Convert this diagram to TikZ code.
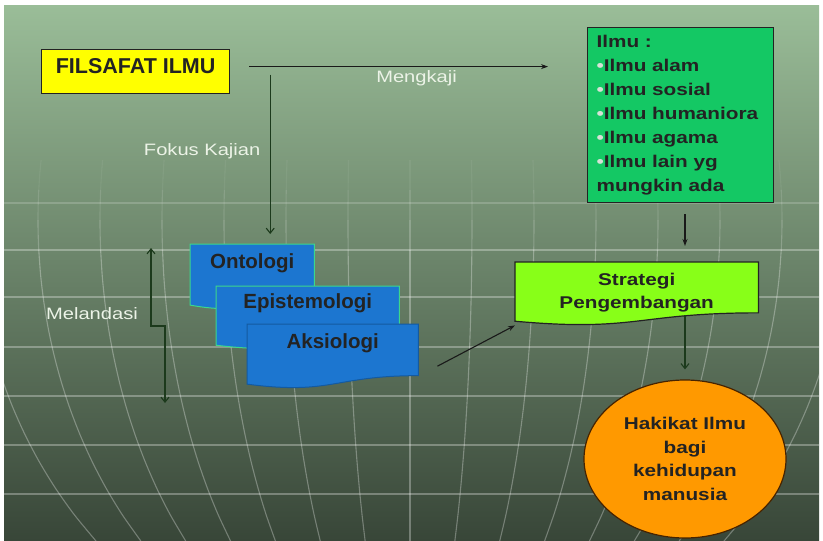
\documentclass[tikz,border=0pt]{standalone}
\usepackage{fontspec}
\setmainfont{Liberation Sans}
\newfontfamily\widefont{Liberation Sans}[FakeStretch=1.22]
\usetikzlibrary{calc,shapes.geometric,arrows.meta}
\pgfdeclarelayer{back}
\pgfdeclarelayer{shapes}
\pgfsetlayers{back,shapes,main}

\definecolor{bgtop}{RGB}{154,189,152}
\definecolor{bgmid}{RGB}{110,140,104}
\definecolor{bgbot}{RGB}{56,70,56}
\definecolor{txt}{RGB}{35,35,35}
\definecolor{lblc}{RGB}{236,243,231}
\definecolor{yellowc}{RGB}{255,255,0}
\definecolor{ilmug}{RGB}{20,200,100}
\definecolor{limec}{RGB}{136,255,24}
\definecolor{tabblue}{RGB}{28,118,208}
\definecolor{tabedge}{RGB}{60,215,140}
\definecolor{aksiedge}{RGB}{20,90,160}
\definecolor{hakorange}{RGB}{255,153,0}
\definecolor{hakline}{RGB}{70,35,0}
\definecolor{linkg}{RGB}{28,58,28}
\definecolor{bullc}{RGB}{215,225,215}

% flowchart document shape drawn from a node's corners
\newcommand\docwave[2]{%
  \path[#2] (#1.north west) -- (#1.north east)
    -- ($(#1.north east)!0.802!(#1.south east)$)
    .. controls ($(#1.north)!0.802!(#1.south)$) and ($(#1.north)!1.107!(#1.south)$)
    .. ($(#1.north west)!0.934!(#1.south west)$) -- cycle;}
\newcommand\blt{{\color{bullc}\textbullet}}
\newcommand\meridian[3]{% k, from, to
  plot[variable=\t, domain=#2:#3, samples=12, smooth]
    ({410+62*#1*sqrt(1-((\t-220)/465)*((\t-220)/465))}, \t)}

\tikzset{
  >={Straight Barb[length=5pt,width=8pt]},
  box/.style={draw=txt, line width=1.2pt, inner sep=0pt, text=txt},
  tab/.style={inner sep=0pt, text=txt, text height=24pt,
    font=\fontsize{20.5}{24}\selectfont\bfseries},
  tabfill/.style={fill=tabblue, draw=tabedge, line width=1pt},
  stratfill/.style={fill=limec, draw=txt, line width=1.2pt},
  lbl/.style={text=lblc, font=\widefont\fontsize{16.5}{20}\selectfont},
  arr/.style={-{Stealth[length=7pt,width=5pt]}, line width=1.1pt, draw=black!90},
  garr/.style={->, line width=1.1pt, draw=linkg},
  globeline/.style={white, opacity=0.3, line width=1.1pt}
}

\begin{document}
\begin{tikzpicture}[x=1pt,y=-1pt]
\useasboundingbox (0,0) rectangle (823,541);

% background with globe grid
\begin{pgfonlayer}{back}
\fill[white] (0,0) rectangle (823,541);
\shade[top color=bgtop, middle color=bgmid, bottom color=bgbot] (4,5) rectangle (819,541);
\begin{scope}
\clip (4,5) rectangle (819,541);
\draw[globeline, opacity=0.18] (4,203) -- (819,203);
\foreach \yy in {250,297,347,396,445,494}
  \draw[globeline] (4,\yy) -- (819,\yy);
\foreach \k in {-7,...,7}{
  \foreach \a/\b/\o in {160/190/0.06, 190/220/0.13, 220/250/0.21}
    \draw[globeline, opacity=\o] \meridian{\k}{\a}{\b};
  \draw[globeline] \meridian{\k}{250}{541};
}
\end{scope}
\end{pgfonlayer}

% nodes
\node[box, fill=yellowc, minimum width=188, text height=24pt, text depth=20pt,
  font=\fontsize{21.5}{24}\selectfont\bfseries, anchor=north west] (filsafat) at (41,49) {FILSAFAT ILMU};
\node[box, fill=ilmug, minimum width=186, minimum height=175, text width=168pt, inner xsep=9pt,
  align=left, font=\widefont\fontsize{17}{24}\selectfont\bfseries, anchor=north west] (ilmu) at (587,27)
  {Ilmu :\\\blt Ilmu alam\\\blt Ilmu sosial\\\blt Ilmu humaniora\\\blt Ilmu agama\\\blt Ilmu lain yg\\mungkin ada};

\node[tab, minimum width=124, text depth=41pt, anchor=north west] (onto) at (190,244) {Ontologi};
\node[tab, minimum width=183, text height=22pt, text depth=41pt, anchor=north west] (epis) at (216,286) {Epistemologi};
\node[tab, minimum width=171, text depth=40pt, anchor=north west] (aksi) at (247,324) {Aksiologi};

\node[inner sep=0pt, minimum width=243, text height=46pt, text depth=17pt, align=center, text=txt,
  font=\widefont\fontsize{17}{23}\selectfont\bfseries, anchor=north west] (strat) at (515,262) {Strategi\\Pengembangan};

\node[ellipse, draw=hakline, line width=1.2pt, fill=hakorange, minimum width=202, minimum height=158,
  inner sep=0pt, align=center, text=txt, font=\widefont\fontsize{17}{23.5}\selectfont\bfseries]
  (hakikat) at (685,459) {Hakikat Ilmu\\bagi\\kehidupan\\manusia};

\begin{pgfonlayer}{shapes}
\docwave{onto}{tabfill}
\docwave{epis}{tabfill}
\docwave{aksi}{tabfill, draw=aksiedge}
\docwave{strat}{stratfill}
\end{pgfonlayer}

% connectors
\coordinate (mk) at (filsafat.east -| ilmu.west);
\draw[arr] ([xshift=19,yshift=5]filsafat.east) -- node[lbl, below, pos=0.56] (mengkaji) {Mengkaji} ([xshift=-39,yshift=5]mk);

\coordinate (fk) at ([xshift=40,yshift=-3]filsafat.east);
\draw[garr, shorten >=10pt] (fk) -- node[lbl, left=6pt, pos=0.45] (fokus) {Fokus Kajian} (fk |- onto.north);

\coordinate (md1) at (151,248);
\coordinate (mdk) at (165,326);
\coordinate (md2) at (165,403);
\draw[garr, <->] (md1) |- (mdk) -- (md2);
\node[lbl] (melandasi) at (92,314) {Melandasi};

\coordinate (is) at (ilmu.south -| hakikat.north);
\draw[arr, shorten <=11pt, shorten >=16pt] (is) -- (is |- strat.north);

\draw[arr] ([xshift=19,yshift=-10]aksi.east) -- (strat.south west);

\coordinate (sh) at (strat.south -| hakikat.north);
\draw[garr, shorten >=10pt] ([yshift=10]sh) -- (hakikat.north);
\end{tikzpicture}
\end{document}
